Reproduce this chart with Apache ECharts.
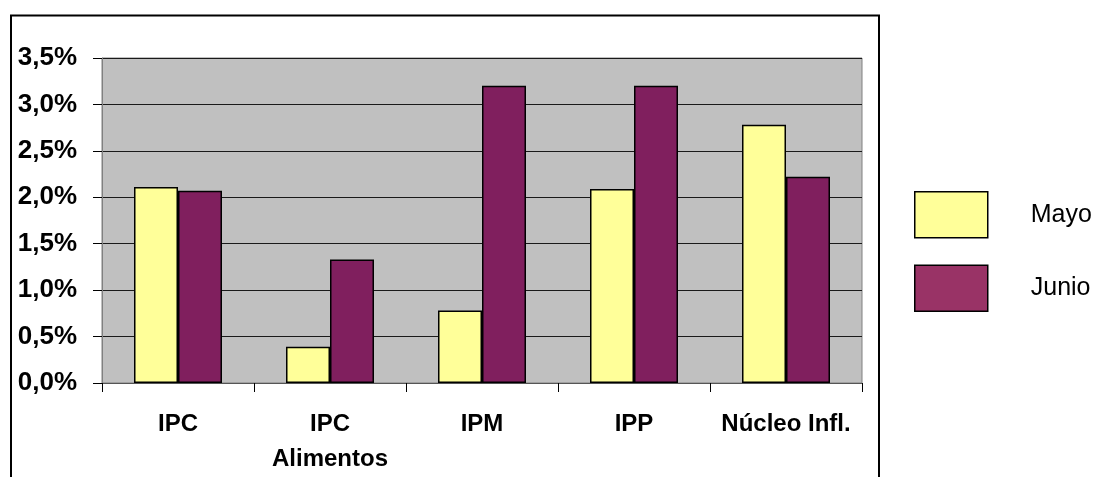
<!DOCTYPE html>
<html>
<head>
<meta charset="utf-8">
<script src="https://cdn.jsdelivr.net/npm/echarts@6/dist/echarts.min.js"></script>
<style>
html,body{margin:0;padding:0;background:#fff;}
#chart{width:1101px;height:477px;}
</style>
</head>
<body>
<div id="chart"></div>
<script>
const categories = ['IPC', 'IPC\nAlimentos', 'IPM', 'IPP', 'Núcleo Infl.'];
const mayo = [2.11, 0.39, 0.78, 2.09, 2.78];
const junio = [2.07, 1.33, 3.20, 3.20, 2.22];
const seriesNames = ['Mayo', 'Junio'];
const yTicks = { min: 0, max: 3.5, interval: 0.5 };

const FONT = "'Liberation Sans', Arial, sans-serif";
const chart = echarts.init(document.getElementById('chart'), null, { renderer: 'canvas' });

chart.setOption({
  animation: false,
  backgroundColor: '#ffffff',
  grid: {
    left: 102, right: 239, top: 58, bottom: 91,
    show: true, backgroundColor: '#C0C0C0', borderColor: '#808080', borderWidth: 1
  },
  graphic: [{
    type: 'rect',
    shape: { x: 11, y: 15.5, width: 868, height: 520 },
    style: { fill: 'none', stroke: '#000', lineWidth: 2 },
    silent: true
  }],
  legend: {
    orient: 'vertical',
    left: 909, top: 186,
    itemWidth: 73, itemHeight: 46, itemGap: 26,
    icon: 'rect',
    textStyle: { fontFamily: FONT, fontSize: 25, color: '#000', padding: [0, 0, 0, 38] },
    data: [
      { name: seriesNames[0], itemStyle: { color: '#FFFF99', borderColor: '#000', borderWidth: 1.5 } },
      { name: seriesNames[1], itemStyle: { color: '#993366', borderColor: '#000', borderWidth: 1.5 } }
    ]
  },
  xAxis: {
    type: 'category',
    data: categories,
    axisLine: { show: true, lineStyle: { color: '#555', width: 1 } },
    axisTick: { show: true, length: 9, lineStyle: { color: '#000' } },
    axisLabel: {
      fontFamily: FONT, fontSize: 24, fontWeight: 'bold', color: '#000',
      margin: 24, lineHeight: 35, interval: 0
    },
    splitLine: { show: false }
  },
  yAxis: {
    type: 'value',
    min: yTicks.min, max: yTicks.max, interval: yTicks.interval,
    axisLine: { show: true, lineStyle: { color: '#808080' } },
    axisTick: { show: true, length: 9, lineStyle: { color: '#000' } },
    axisLabel: {
      fontFamily: FONT, fontSize: 26, fontWeight: 'bold', color: '#000', margin: 25,
      formatter: v => v.toFixed(1).replace('.', ',') + '%'
    },
    splitLine: { show: true, lineStyle: { color: '#1a1a1a', width: 1 } }
  },
  series: [
    {
      name: seriesNames[0], type: 'bar', data: mayo,
      barWidth: 44, barGap: '0%',
      itemStyle: { color: '#FFFF99', borderColor: '#000', borderWidth: 1.5 }
    },
    {
      name: seriesNames[1], type: 'bar', data: junio,
      barWidth: 44, barGap: '0%',
      itemStyle: { color: '#801F5E', borderColor: '#000', borderWidth: 1.5 }
    }
  ]
});
</script>
</body>
</html>
